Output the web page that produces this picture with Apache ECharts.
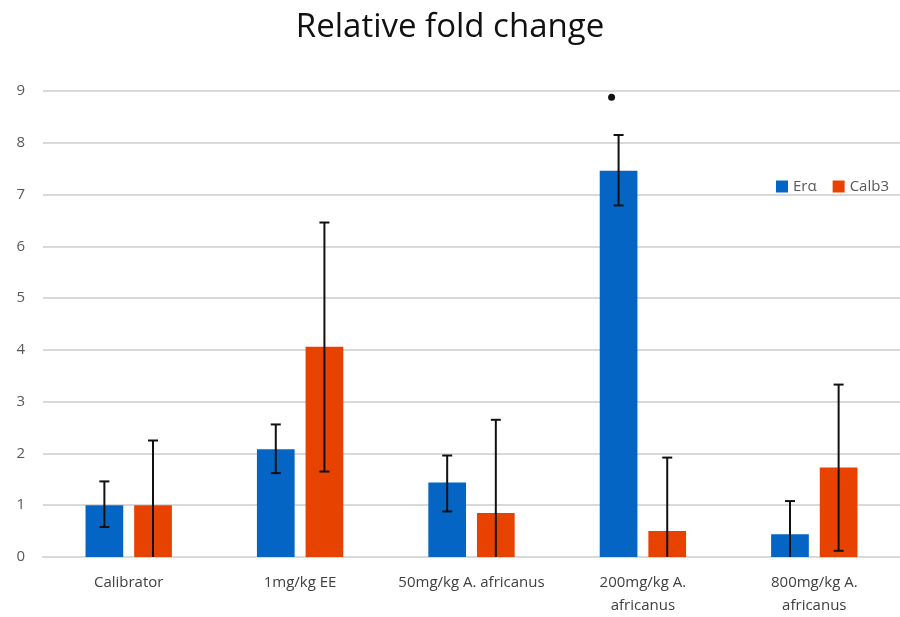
<!DOCTYPE html>
<html><head><meta charset="utf-8">
<script src="https://cdn.jsdelivr.net/npm/echarts@6/dist/echarts.min.js"></script>
<style>html,body{margin:0;padding:0;background:#fff}#c{width:900px;height:617px}</style>
</head><body><div id="c"></div>
<script>
const categories = ['Calibrator', '1mg/kg EE', '50mg/kg A. africanus', '200mg/kg A.\nafricanus', '800mg/kg A.\nafricanus'];
const seriesNames = ['Erα', 'Calb3'];
const eraValues = [1.0, 2.08, 1.44, 7.46, 0.44];
const calbValues = [1.0, 4.06, 0.85, 0.50, 1.73];
const eraErrHigh = [1.46, 2.56, 1.96, 8.15, 1.08];
const eraErrLow = [0.58, 1.62, 0.88, 6.79, 0];
const calbErrHigh = [2.25, 6.46, 2.65, 1.92, 3.33];
const calbErrLow = [0, 1.65, 0, 0, 0.12];
const significance = [[3, 8.88]];
const yTicks = [0, 1, 2, 3, 4, 5, 6, 7, 8, 9];

const BW = 0.22, GAP = 0.29;
function offsetFor(series, band) {
  const bw = band * BW;
  const half = (bw + bw * GAP) / 2;
  return series === 0 ? -half : half;
}
function errData(low, high, s) {
  return low.map((l, i) => [i, l, high[i], s]);
}
function renderErr(params, api) {
  const i = api.value(0), lo = api.value(1), hi = api.value(2), s = api.value(3);
  const band = api.size([1, 0])[0];
  const pHi = api.coord([i, hi]);
  const pLo = api.coord([i, lo]);
  const x = pHi[0] + offsetFor(s, band);
  const style = { stroke: '#111', lineWidth: 2 };
  const children = [
    { type: 'line', shape: { x1: x, y1: pHi[1], x2: x, y2: pLo[1] }, style },
    { type: 'line', shape: { x1: x - 5, y1: pHi[1], x2: x + 5, y2: pHi[1] }, style }
  ];
  if (lo > 0) children.push({ type: 'line', shape: { x1: x - 5, y1: pLo[1], x2: x + 5, y2: pLo[1] }, style });
  return { type: 'group', children };
}
function renderStar(params, api) {
  const band = api.size([1, 0])[0];
  const p = api.coord([api.value(0), api.value(1)]);
  return { type: 'circle', shape: { cx: p[0] + offsetFor(0, band) - 7, cy: p[1], r: 3.5 }, style: { fill: '#111' } };
}

const chart = echarts.init(document.getElementById('c'));
chart.setOption({
  animation: false,
  title: { text: 'Relative fold change', left: 'center', top: 6,
    textStyle: { fontFamily: 'Open Sans', fontSize: 33, fontWeight: 'normal', color: '#111' } },
  legend: { data: seriesNames, left: 771, top: 174, itemWidth: 12, itemHeight: 12, itemGap: 16,
    icon: 'rect', textStyle: { fontFamily: 'Open Sans', fontSize: 15, color: '#595959' } },
  grid: { left: 43, top: 91, width: 865, height: 469 },
  xAxis: { type: 'category', data: categories,
    axisLine: { lineStyle: { color: '#d9d9d9', width: 2 } }, axisTick: { show: false },
    axisLabel: { interval: 0, margin: 14, fontFamily: 'Open Sans', fontSize: 15, color: '#404040', lineHeight: 23 } },
  yAxis: { type: 'value', min: 0, max: 9, interval: 1,
    axisLine: { show: false }, axisTick: { show: false },
    axisLabel: { margin: 18, fontFamily: 'Open Sans', fontSize: 15, color: '#595959',
      formatter: v => yTicks.includes(v) ? String(v) : '' },
    splitLine: { lineStyle: { color: '#d9d9d9', width: 2 } } },
  series: [
    { name: seriesNames[0], type: 'bar', data: eraValues, barWidth: (BW * 100) + '%', barGap: (GAP * 100) + '%',
      itemStyle: { color: '#0565C4' } },
    { name: seriesNames[1], type: 'bar', data: calbValues, barWidth: (BW * 100) + '%',
      itemStyle: { color: '#E84200' } },
    { type: 'custom', renderItem: renderErr, data: errData(eraErrLow, eraErrHigh, 0), z: 10 },
    { type: 'custom', renderItem: renderErr, data: errData(calbErrLow, calbErrHigh, 1), z: 10 },
    { type: 'custom', renderItem: renderStar, data: significance, z: 10 }
  ]
});
</script></body></html>
